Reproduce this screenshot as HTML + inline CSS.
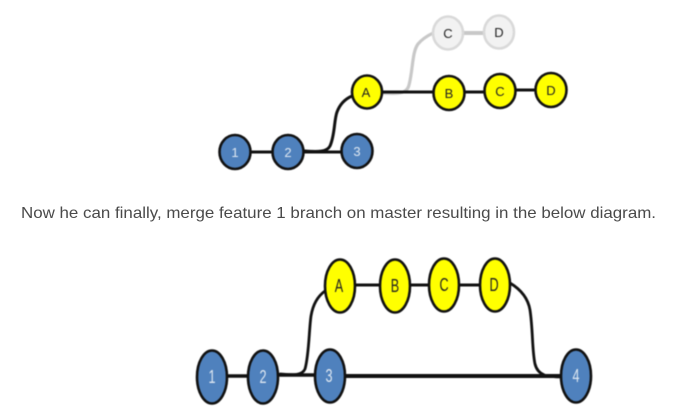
<!DOCTYPE html>
<html><head><meta charset="utf-8"><style>
html,body{margin:0;padding:0;background:#fff;width:680px;height:413px;overflow:hidden}
svg{display:block}
text{font-family:"Liberation Sans",sans-serif}
.n{text-anchor:middle;font-size:13px}
.w{fill:#dfe8f2}.k{fill:#222}
.b{fill:#4f81bd;stroke:#111;stroke-width:2.6}
.y{fill:#ffff00;stroke:#111;stroke-width:2.6}
.g{fill:#f2f2f2;stroke:#d9d9d9;stroke-width:2.6}
.l{fill:none;stroke:#111;stroke-linecap:round}
.d{filter:blur(.4px)}
</style></head><body>
<svg width="680" height="413" viewBox="0 0 680 413" xmlns="http://www.w3.org/2000/svg">
<g class="d">
<path d="M383 93C398 94 407 94 409 85C413 70 412 52 418 44C422 39 427 36 433 33" fill="none" stroke="#c8c8c8" stroke-width="3.2"/>
<path d="M450 33H499" fill="none" stroke="#c8c8c8" stroke-width="4"/>
<path class="l" stroke-width="3" d="M235 152H357M367 92H449"/>
<path class="l" stroke-width="3" d="M449 92H500M500 90H551"/>
<path class="l" stroke-width="3" d="M305 151C318 152 327 152 330 146C335 135 334 120 337 112C340 104 345 99 352 96"/>
<g>
<ellipse class="g" cx="448" cy="33" rx="15" ry="16.5"/><ellipse class="g" cx="499" cy="32" rx="15" ry="16.5"/>
<ellipse class="b" cx="235" cy="152" rx="15.5" ry="17"/><ellipse class="b" cx="288" cy="152" rx="15.5" ry="17"/><ellipse class="b" cx="357" cy="151" rx="15.5" ry="17"/>
<ellipse class="y" cx="367" cy="92" rx="15" ry="16.5"/><ellipse class="y" cx="449" cy="93" rx="15.5" ry="17"/><ellipse class="y" cx="500" cy="91" rx="15.5" ry="17"/><ellipse class="y" cx="551" cy="90" rx="15.5" ry="17"/>
</g>
<g>
<text class="n k" x="448" y="38">C</text><text class="n k" x="499" y="37">D</text>
<text class="n w" x="235" y="157">1</text><text class="n w" x="288" y="157">2</text><text class="n w" x="357" y="156">3</text>
<text class="n k" x="366" y="97">A</text><text class="n k" x="449" y="98">B</text><text class="n k" x="500" y="96">C</text><text class="n k" x="551" y="95">D</text>
</g>
<path class="l" stroke-width="3.4" d="M212 376H264M280 375H330"/>
<path class="l" stroke-width="4" d="M330 376H576"/>
<path class="l" stroke-width="2.8" d="M280 374C292 375 302 376 305 369C309 355 309 330 311 316C313 304 318 296 325 291"/>
<path class="l" stroke-width="3" d="M340 285H495"/>
<path class="l" stroke-width="2.8" d="M510 283C520 289 528 298 530 310C533 330 532 350 535 364C538 376 548 377 562 377"/>
<g>
<ellipse class="b" cx="212" cy="377" rx="15" ry="26.5"/><ellipse class="b" cx="263" cy="377" rx="15" ry="26.5"/><ellipse class="b" cx="330" cy="376" rx="15" ry="26.5"/><ellipse class="b" cx="576" cy="376" rx="15" ry="26.5"/>
<ellipse class="y" cx="340" cy="286" rx="15" ry="26.5"/><ellipse class="y" cx="395" cy="286" rx="15" ry="26.5"/><ellipse class="y" cx="444" cy="285" rx="15" ry="26.5"/><ellipse class="y" cx="495" cy="285" rx="15" ry="26.5"/>
</g>
<g font-size="14">
<text transform="translate(212 383) scale(.9 1.35)" text-anchor="middle" class="w">1</text>
<text transform="translate(263 383) scale(.9 1.35)" text-anchor="middle" class="w">2</text>
<text transform="translate(329 382) scale(.9 1.35)" text-anchor="middle" class="w">3</text>
<text transform="translate(576 382) scale(.9 1.35)" text-anchor="middle" class="w">4</text>
<text transform="translate(339 292) scale(.9 1.35)" text-anchor="middle" class="k">A</text>
<text transform="translate(395 292) scale(.9 1.35)" text-anchor="middle" class="k">B</text>
<text transform="translate(444 291) scale(.9 1.35)" text-anchor="middle" class="k">C</text>
<text transform="translate(494 291) scale(.9 1.35)" text-anchor="middle" class="k">D</text>
</g>
</g>
<text x="21" y="218" font-size="16" fill="#4a4a4a" textLength="635" lengthAdjust="spacingAndGlyphs">Now he can finally, merge feature 1 branch on master resulting in the below diagram.</text>
</svg>
</body></html>
